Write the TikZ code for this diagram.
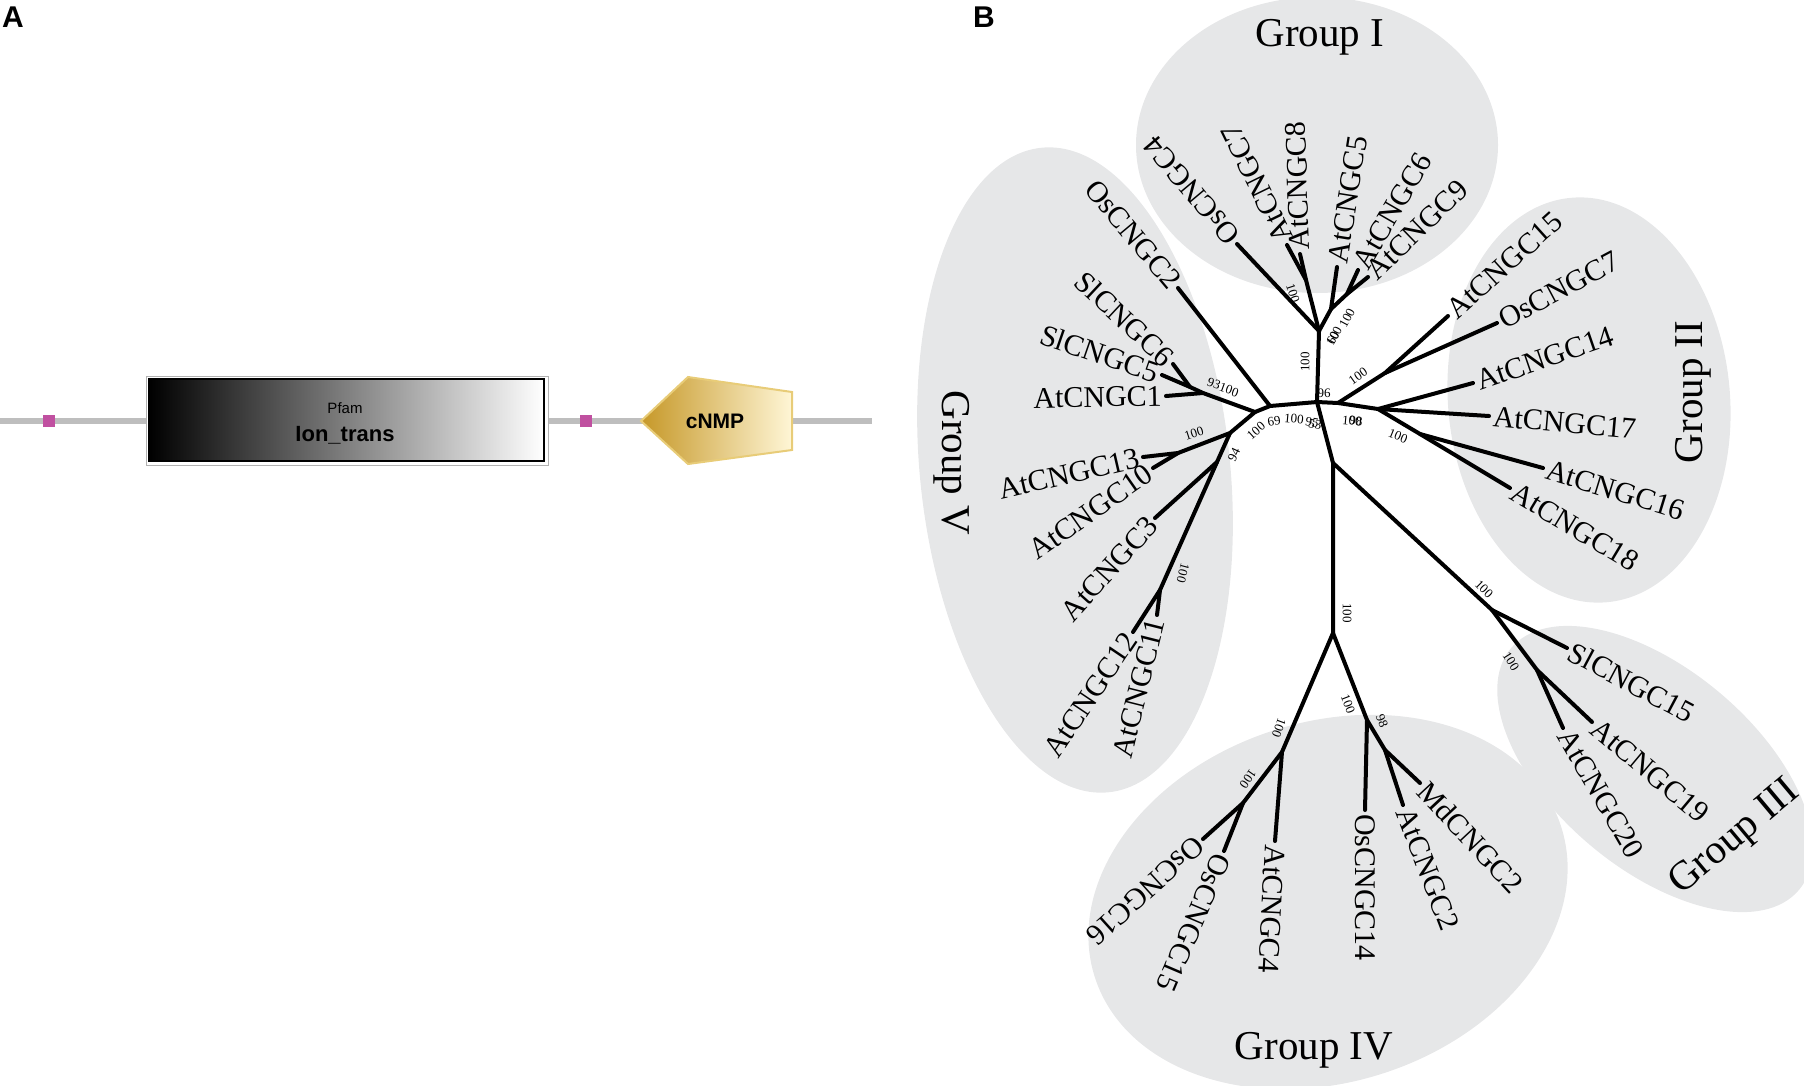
\documentclass[tikz,border=0pt]{standalone}
\usepackage{fontspec}
\setmainfont{Liberation Serif}
\setsansfont{Liberation Sans}
\definecolor{cladegray}{RGB}{230,231,232}
\definecolor{linegray}{RGB}{190,190,190}
\definecolor{pinkbox}{RGB}{192,80,160}
\definecolor{golddark}{RGB}{198,152,40}
\definecolor{goldlight}{RGB}{255,246,214}
\definecolor{goldedge}{RGB}{232,204,120}
\newcommand\leaffont{\fontsize{30}{30}\selectfont}
\newcommand\bsfont{\fontsize{13}{13}\selectfont}
\newcommand\grpfont{\fontsize{41}{41}\selectfont}
\newcommand\panelfont{\sffamily\bfseries\fontsize{30}{30}\selectfont}
\begin{document}
\begin{tikzpicture}[x=1pt,y=-1pt,
  br/.style={line width=4pt, line cap=round, line join=round},
  leafL/.style={font=\leaffont, anchor=west, inner sep=4pt},
  leafR/.style={font=\leaffont, anchor=east, inner sep=4pt},
  bs/.style={font=\bsfont, inner sep=0pt},
  grp/.style={font=\grpfont, inner sep=0pt},
  panel/.style={font=\panelfont, inner sep=0pt, anchor=base west}]
\useasboundingbox (0,0) rectangle (1804,1085);

% ---------------- Panel A ----------------
\node[panel] (pA) at (2,27) {A};
\draw[linegray, line width=6pt] (0,421) -- (872,421);
\fill[pinkbox] (43,415) rectangle (55,427);
\fill[pinkbox] (580,415) rectangle (592,427);
\draw[gray!60, line width=1pt, fill=white] (146,376) rectangle (548,465);
\shade[left color=black, right color=white] (149,379) rectangle (544,461);
\draw[black, line width=2.6pt] (149,379) rectangle (544,461);
\node[font=\sffamily\fontsize{15}{15}\selectfont, inner sep=0pt] (pfam) at (345,408) {Pfam};
\node[font=\sffamily\bfseries\fontsize{22}{22}\selectfont, inner sep=0pt] (iontrans) at (345,435) {Ion\_trans};
\shadedraw[left color=golddark, right color=goldlight, draw=goldedge, line width=2pt]
  (641,421) -- (688,377) -- (792,392) -- (792,450) -- (688,464) -- cycle;
\node[font=\sffamily\bfseries\fontsize{21}{21}\selectfont, inner sep=0pt] (cnmp) at (715,421) {cNMP};

% ---------------- Panel B ----------------
\node[panel] (pB) at (973,27) {B};

% clade backgrounds
\fill[cladegray] (1317,145) ellipse [x radius=181pt, y radius=148pt];
\fill[cladegray, rotate around={5:(1589,400)}] (1589,400) ellipse [x radius=141pt, y radius=203pt];
\fill[cladegray, rotate around={-40:(1655,769)}] (1655,769) ellipse [x radius=188pt, y radius=100pt];
\fill[cladegray, rotate around={18:(1328,902)}] (1328,902) ellipse [x radius=245pt, y radius=180pt];
\fill[cladegray, rotate around={6:(1075,470)}] (1075,470) ellipse [x radius=155pt, y radius=324pt];

% internal nodes
\coordinate (C) at (1317,402);
\coordinate (M) at (1270,406);
\coordinate (L) at (1255,412);
\coordinate (G1) at (1319,331);
\coordinate (J78) at (1306,280);
\coordinate (J569) at (1331,309);
\coordinate (J69) at (1347,294);
\coordinate (J2a) at (1338,403);
\coordinate (J157) at (1385,373);
\coordinate (J2b) at (1378,409);
\coordinate (J1618) at (1420,434);
\coordinate (D) at (1333,463);
\coordinate (J3) at (1492,610);
\coordinate (J1920) at (1537,670);
\coordinate (J4) at (1333,633);
\coordinate (J4L) at (1282,752);
\coordinate (J4R) at (1367,720);
\coordinate (J298) at (1385,750);
\coordinate (J1516) at (1243,803);
\coordinate (J1) at (1203,393);
\coordinate (J56) at (1190,387);
\coordinate (J5a) at (1230,433);
\coordinate (J1310) at (1178,453);
\coordinate (J5b) at (1217,462);
\coordinate (J1112) at (1160,590);

% leaf ends
\coordinate (eOsCNGC4) at (1237,244);
\coordinate (eAtCNGC7) at (1287,245);
\coordinate (eAtCNGC8) at (1300,254);
\coordinate (eAtCNGC5) at (1337,267);
\coordinate (eAtCNGC6) at (1358,270);
\coordinate (eAtCNGC9) at (1368,277);
\coordinate (eAtCNGC15) at (1448,316);
\coordinate (eOsCNGC7) at (1497,323);
\coordinate (eAtCNGC14) at (1473,383);
\coordinate (eAtCNGC17) at (1489,416);
\coordinate (eAtCNGC16) at (1543,468);
\coordinate (eAtCNGC18) at (1510,488);
\coordinate (eSlCNGC15) at (1567,648);
\coordinate (eAtCNGC19) at (1592,722);
\coordinate (eAtCNGC20) at (1563,728);
\coordinate (eOsCNGC14) at (1365,810);
\coordinate (eAtCNGC2) at (1403,805);
\coordinate (eMdCNGC2) at (1420,783);
\coordinate (eAtCNGC4) at (1275,841);
\coordinate (eOsCNGC16) at (1203,839);
\coordinate (eOsCNGC15) at (1224,851);
\coordinate (eOsCNGC2) at (1178,288);
\coordinate (eSlCNGC6) at (1173,364);
\coordinate (eSlCNGC5) at (1162,375);
\coordinate (eAtCNGC1) at (1166,396);
\coordinate (eAtCNGC13) at (1143,457);
\coordinate (eAtCNGC10) at (1153,468);
\coordinate (eAtCNGC3) at (1155,518);
\coordinate (eAtCNGC12) at (1133,632);
\coordinate (eAtCNGC11) at (1157,615);

% branches
\draw[br] (C) -- (M) -- (L);
\draw[br] (M) -- (eOsCNGC2);
\draw[br] (L) -- (J1) -- (eAtCNGC1);
\draw[br] (J1) -- (J56) -- (eSlCNGC5);
\draw[br] (J56) -- (eSlCNGC6);
\draw[br] (L) -- (J5a) -- (J1310) -- (eAtCNGC13);
\draw[br] (J1310) -- (eAtCNGC10);
\draw[br] (J5a) -- (J5b) -- (eAtCNGC3);
\draw[br] (J5b) -- (J1112) -- (eAtCNGC12);
\draw[br] (J1112) -- (eAtCNGC11);
\draw[br] (C) -- (G1) -- (eOsCNGC4);
\draw[br] (G1) -- (J78) -- (eAtCNGC7);
\draw[br] (J78) -- (eAtCNGC8);
\draw[br] (G1) -- (J569) -- (eAtCNGC5);
\draw[br] (J569) -- (J69) -- (eAtCNGC9);
\draw[br] (J69) -- (eAtCNGC6);
\draw[br] (C) -- (J2a) -- (J2b);
\draw[br] (J2a) -- (J157) -- (eAtCNGC15);
\draw[br] (J157) -- (eOsCNGC7);
\draw[br] (J2b) -- (eAtCNGC14);
\draw[br] (J2b) -- (eAtCNGC17);
\draw[br] (J2b) -- (J1618) -- (eAtCNGC18);
\draw[br] (J1618) -- (eAtCNGC16);
\draw[br] (C) -- (D) -- (J3) -- (eSlCNGC15);
\draw[br] (J3) -- (J1920) -- (eAtCNGC19);
\draw[br] (J1920) -- (eAtCNGC20);
\draw[br] (D) -- (J4) -- (J4L) -- (eAtCNGC4);
\draw[br] (J4L) -- (J1516) -- (eOsCNGC16);
\draw[br] (J1516) -- (eOsCNGC15);
\draw[br] (J4) -- (J4R) -- (eOsCNGC14);
\draw[br] (J4R) -- (J298) -- (eAtCNGC2);
\draw[br] (J298) -- (eMdCNGC2);

% leaf labels
\node[leafL, rotate=130] (lOsCNGC4) at (eOsCNGC4) {OsCNGC4};
\node[leafL, rotate=116] (lAtCNGC7) at (eAtCNGC7) {AtCNGC7};
\node[leafL, rotate=92] (lAtCNGC8) at (eAtCNGC8) {AtCNGC8};
\node[leafL, rotate=81] (lAtCNGC5) at (eAtCNGC5) {AtCNGC5};
\node[leafL, rotate=60] (lAtCNGC6) at (eAtCNGC6) {AtCNGC6};
\node[leafL, rotate=44] (lAtCNGC9) at (eAtCNGC9) {AtCNGC9};
\node[leafL, rotate=42] (lAtCNGC15) at (eAtCNGC15) {AtCNGC15};
\node[leafL, rotate=28] (lOsCNGC7) at (eOsCNGC7) {OsCNGC7};
\node[leafL, rotate=19] (lAtCNGC14) at (eAtCNGC14) {AtCNGC14};
\node[leafL, rotate=-5] (lAtCNGC17) at (eAtCNGC17) {AtCNGC17};
\node[leafL, rotate=-17] (lAtCNGC16) at (eAtCNGC16) {AtCNGC16};
\node[leafL, rotate=-31] (lAtCNGC18) at (eAtCNGC18) {AtCNGC18};
\node[leafL, rotate=-28] (lSlCNGC15) at (eSlCNGC15) {SlCNGC15};
\node[leafL, rotate=-40] (lAtCNGC19) at (eAtCNGC19) {AtCNGC19};
\node[leafL, rotate=-60] (lAtCNGC20) at (eAtCNGC20) {AtCNGC20};
\node[leafL, rotate=-90] (lOsCNGC14) at (eOsCNGC14) {OsCNGC14};
\node[leafL, rotate=-69] (lAtCNGC2) at (eAtCNGC2) {AtCNGC2};
\node[leafL, rotate=-47] (lMdCNGC2) at (eMdCNGC2) {MdCNGC2};
\node[leafL, rotate=-93] (lAtCNGC4) at (eAtCNGC4) {AtCNGC4};
\node[leafL, rotate=222] (lOsCNGC16) at (eOsCNGC16) {OsCNGC16};
\node[leafL, rotate=247] (lOsCNGC15) at (eOsCNGC15) {OsCNGC15};
\node[leafR, rotate=-50] (lOsCNGC2) at (eOsCNGC2) {OsCNGC2};
\node[leafR, rotate=-43] (lSlCNGC6) at (eSlCNGC6) {SlCNGC6};
\node[leafR, rotate=-19] (lSlCNGC5) at (eSlCNGC5) {SlCNGC5};
\node[leafR, rotate=1] (lAtCNGC1) at (eAtCNGC1) {AtCNGC1};
\node[leafR, rotate=13] (lAtCNGC13) at (eAtCNGC13) {AtCNGC13};
\node[leafR, rotate=35] (lAtCNGC10) at (eAtCNGC10) {AtCNGC10};
\node[leafR, rotate=48] (lAtCNGC3) at (eAtCNGC3) {AtCNGC3};
\node[leafR, rotate=56] (lAtCNGC12) at (eAtCNGC12) {AtCNGC12};
\node[leafR, rotate=76] (lAtCNGC11) at (eAtCNGC11) {AtCNGC11};

% bootstrap values
\node[bs, rotate=-72] (b1) at (1293,293) {100};
\node[bs, rotate=90] (b2) at (1305,362) {100};
\node[bs] (b3) at (1324,393) {96};
\node[bs, rotate=62] (b4) at (1333,338) {60};
\node[bs, rotate=62] (b5) at (1334,336) {100};
\node[bs, rotate=62] (b6) at (1347,318) {100};
\node[bs, rotate=35] (b7) at (1358,376) {100};
\node[bs, rotate=-5] (b8) at (1352,421) {100};
\node[bs, rotate=-5] (b9) at (1356,421) {98};
\node[bs, rotate=-22] (b10) at (1398,436) {100};
\node[bs, rotate=-45] (b11) at (1484,589) {100};
\node[bs, rotate=-58] (b12) at (1511,661) {100};
\node[bs, rotate=-90] (b13) at (1347,613) {100};
\node[bs, rotate=-110] (b14) at (1279,728) {100};
\node[bs, rotate=-69] (b15) at (1348,704) {100};
\node[bs, rotate=-69] (b16) at (1382,721) {98};
\node[bs, rotate=-125] (b17) at (1248,779) {100};
\node[bs, rotate=-20] (b18) at (1214,384) {93};
\node[bs, rotate=-20] (b19) at (1229,390) {100};
\node[bs, rotate=18] (b20) at (1194,433) {100};
\node[bs, rotate=42] (b21) at (1256,431) {100};
\node[bs, rotate=10] (b22) at (1274,421) {69};
\node[bs, rotate=-5] (b23) at (1294,419) {100};
\node[bs, rotate=-10] (b24) at (1312,422) {95};
\node[bs, rotate=-10] (b25) at (1315,424) {53};
\node[bs, rotate=65] (b26) at (1234,455) {94};
\node[bs, rotate=-105] (b27) at (1183,573) {100};

% group labels
\node[grp] (gI) at (1320,37) {Group I};
\node[grp, rotate=90] (gII) at (1693,392) {Group II};
\node[grp, rotate=40] (gIII) at (1735,838) {Group III};
\node[grp] (gIV) at (1314,1050) {Group IV};
\node[grp, rotate=-90] (gV) at (952,463) {Group V};
\end{tikzpicture}
\end{document}
